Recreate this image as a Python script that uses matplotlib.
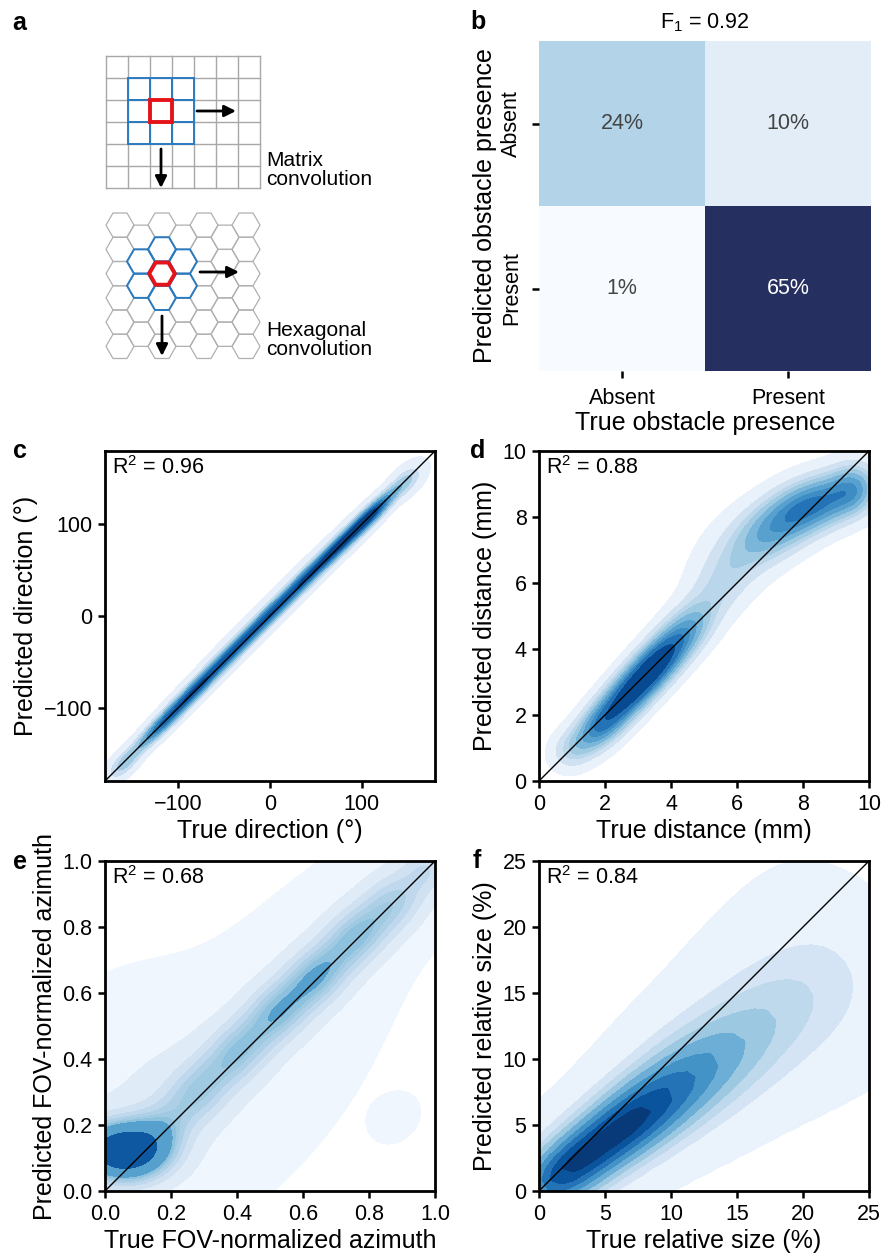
import numpy as np
import matplotlib
matplotlib.use("Agg")
import matplotlib.pyplot as plt
from matplotlib.patches import RegularPolygon, Rectangle
from matplotlib.colors import LinearSegmentedColormap
from matplotlib.ticker import FormatStrFormatter

plt.rcParams["font.family"] = ["Liberation Sans", "DejaVu Sans"]
plt.rcParams["mathtext.fontset"] = "custom"
plt.rcParams["mathtext.rm"] = "Liberation Sans"
plt.rcParams["mathtext.it"] = "Liberation Sans:italic"

# ---- data ----
cm_labels = ["Absent", "Present"]
cm_values = np.array([[0.24, 0.10],
                      [0.01, 0.65]])  # rows: predicted, cols: true
f1_score = 0.92

r2_direction = 0.96
r2_distance = 0.88
r2_azimuth = 0.68
r2_size = 0.84

# density blobs: (centre x, centre y, spread along, spread across, angle deg, weight)
direction_blobs = [
    (-160, -162, 15, 7, 45, 0.25),
    (-120, -120, 30, 6, 45, 0.9),
    (-80, -79, 30, 6, 45, 0.9),
    (-40, -38, 30, 6, 45, 0.85),
    (0, 2, 30, 6, 45, 0.85),
    (40, 42, 30, 6, 45, 0.85),
    (80, 81, 30, 6, 45, 1.0),
    (115, 115, 25, 6, 45, 0.8),
    (150, 148, 15, 8, 45, 0.25),
    (0, 6, 140, 18, 45, 0.9),
]
distance_blobs = [
    (0.9, 0.9, 0.5, 0.45, 40, 0.2),
    (1.8, 1.6, 0.7, 0.45, 45, 0.7),
    (2.7, 2.6, 0.8, 0.45, 45, 1.0),
    (3.6, 3.6, 0.8, 0.45, 45, 1.0),
    (4.5, 4.6, 0.8, 0.5, 45, 0.7),
    (5.8, 6.8, 1.2, 0.9, 50, 0.45),
    (5.5, 5.9, 0.8, 0.6, 45, 0.35),
    (7.2, 7.7, 1.2, 0.65, 35, 1.6),
    (8.7, 8.5, 1.0, 0.6, 20, 1.2),
    (9.6, 8.9, 0.5, 0.6, 0, 0.35),
]
azimuth_blobs = [
    (0.05, 0.12, 0.09, 0.06, 0, 1.3),
    (0.16, 0.17, 0.08, 0.06, 45, 0.3),
    (0.28, 0.30, 0.08, 0.06, 45, 0.35),
    (0.40, 0.42, 0.08, 0.06, 45, 0.4),
    (0.52, 0.54, 0.08, 0.06, 45, 0.45),
    (0.64, 0.65, 0.08, 0.06, 45, 0.48),
    (0.76, 0.77, 0.08, 0.06, 45, 0.45),
    (0.88, 0.88, 0.08, 0.06, 45, 0.38),
    (0.98, 0.98, 0.05, 0.05, 45, 0.12),
    (0.10, 0.30, 0.20, 0.18, 70, 0.6),
    (0.40, 0.28, 0.35, 0.18, 45, 0.5),
    (0.55, 0.62, 0.55, 0.15, 45, 0.6),
    (0.88, 0.22, 0.05, 0.04, 45, 0.02),
]
size_blobs = [
    (0.5, 0.4, 2.0, 1.5, 37, 0.45),
    (2, 1.5, 2.5, 1.7, 37, 1.7),
    (5, 3.8, 2.5, 1.8, 37, 1.85),
    (8, 6.0, 2.5, 2.0, 37, 2.0),
    (11, 8.3, 2.5, 2.3, 37, 1.7),
    (14, 10.5, 2.5, 2.6, 37, 1.35),
    (17, 12.8, 2.5, 3.0, 37, 1.05),
    (20, 15.0, 2.5, 3.4, 37, 0.85),
    (23, 17.3, 2.5, 3.8, 37, 0.57),
]


def blob_density(xx, yy, blobs):
    z = np.zeros_like(xx)
    for cx, cy, su, sv, ang, w in blobs:
        t = np.deg2rad(ang)
        dx, dy = xx - cx, yy - cy
        u = dx * np.cos(t) + dy * np.sin(t)
        v = -dx * np.sin(t) + dy * np.cos(t)
        z += w / (2 * np.pi * su * sv) * np.exp(-0.5 * (u**2 / su**2 + v**2 / sv**2))
    return z


def iso_levels(z, thresh, n):
    """Density values that enclose given proportions of the mass (like seaborn)."""
    flat = np.sort(z.ravel())[::-1]
    cum = np.cumsum(flat) / flat.sum()
    props = np.linspace(thresh, 1, n)
    idx = np.searchsorted(cum, 1 - props)
    return np.unique(np.take(flat, idx, mode="clip"))


W, H = 884, 1257
fig = plt.figure(figsize=(W / 100, H / 100), dpi=100)


def px_axes(left, top, right, bottom):
    return fig.add_axes([left / W, 1 - bottom / H, (right - left) / W, (bottom - top) / H])


def panel_label(x, y, s):
    fig.text(x / W, 1 - y / H, s, fontsize=18, fontweight="bold", ha="left", va="center")


# ---- panel a: schematic ----
ax_a = px_axes(0, 0, 420, 380)
ax_a.set_xlim(0, 420)
ax_a.set_ylim(380, 0)
ax_a.axis("off")

cell = 22
gx0, gy0, ncol, nrow = 106, 56, 7, 6
for i in range(ncol + 1):
    ax_a.plot([gx0 + i * cell] * 2, [gy0, gy0 + nrow * cell], color="#a8a8a8", lw=1, zorder=1)
for j in range(nrow + 1):
    ax_a.plot([gx0, gx0 + ncol * cell], [gy0 + j * cell] * 2, color="#a8a8a8", lw=1, zorder=1)
for i in range(1, 4):
    for j in range(1, 4):
        ax_a.add_patch(Rectangle((gx0 + i * cell, gy0 + j * cell), cell, cell,
                                 fill=False, ec="#2b7bc0", lw=1.4, zorder=2))
ax_a.add_patch(Rectangle((gx0 + 2 * cell, gy0 + 2 * cell), cell, cell,
                         fill=False, ec="#e5141b", lw=2.8, zorder=3))

hr = 14.0
hh = np.sqrt(3) * hr
hx0, hy0 = 120, 213 + hh / 2
centres = {}
for c in range(7):
    rows = 6 if c % 2 == 0 else 5
    for r in range(rows):
        cx = hx0 + c * 1.5 * hr
        cy = hy0 + r * hh + (hh / 2 if c % 2 else 0)
        centres[(c, r)] = (cx, cy)
        ax_a.add_patch(RegularPolygon((cx, cy), 6, radius=hr, orientation=np.pi / 6,
                                      fill=False, ec="#b0b0b0", lw=0.9, zorder=1))
for key in [(2, 1), (2, 3), (1, 1), (1, 2), (3, 1), (3, 2), (2, 2)]:
    ax_a.add_patch(RegularPolygon(centres[key], 6, radius=hr, orientation=np.pi / 6,
                                  fill=False, ec="#2b7bc0", lw=1.4, zorder=2))
ax_a.add_patch(RegularPolygon(centres[(2, 2)], 6, radius=hr - 1.2, orientation=np.pi / 6,
                              fill=False, ec="#e5141b", lw=2.8, zorder=3))

arrow_kw = dict(arrowstyle="-|>", color="k", lw=2, mutation_scale=17, shrinkA=0, shrinkB=0)
for start, end in [((197, 111), (236, 111)), ((161, 149), (161, 188)),
                   ((200, 272), (239, 272)), ((162, 316), (162, 356))]:
    ax_a.annotate("", xy=end, xytext=start, arrowprops=arrow_kw, zorder=4)

ax_a.text(266, 170, "Matrix\nconvolution", fontsize=15, va="center", ha="left", linespacing=1.05)
ax_a.text(266, 340, "Hexagonal\nconvolution", fontsize=15, va="center", ha="left", linespacing=1.05)
panel_label(12, 23, "a")

# ---- panel b: confusion matrix ----
ax_b = px_axes(539, 41, 871, 371)
cm_cmap = LinearSegmentedColormap.from_list(
    "cm", [(0, "#f7fbff"), (0.14, "#e3eef9"), (0.36, "#b3d3e8"), (1, "#253061")])
ax_b.imshow(cm_values, cmap=cm_cmap, vmin=cm_values.min(), vmax=cm_values.max(),
            aspect="auto", extent=(0, 2, 2, 0))
for r in range(2):
    for c in range(2):
        val = cm_values[r, c]
        col = "white" if val > 0.4 else "#444444"
        ax_b.text(c + 0.5, r + 0.5, f"{val:.0%}", ha="center", va="center", fontsize=15.5, color=col)
ax_b.set_xticks([0.5, 1.5])
ax_b.set_xticklabels(cm_labels)
ax_b.set_yticks([0.5, 1.5])
ax_b.set_yticklabels(cm_labels, rotation=90, va="center")
for s in ax_b.spines.values():
    s.set_visible(False)
ax_b.tick_params(labelsize=15.5, length=5, width=1.8, pad=7)
ax_b.set_xlabel("True obstacle presence", fontsize=18, labelpad=2)
ax_b.set_ylabel("Predicted obstacle presence", fontsize=18, labelpad=3)
ax_b.set_title(f"F$_1$ = {f1_score:.2f}", fontsize=15.5, pad=9)
panel_label(470, 22, "b")


# ---- panels c-f: density plots ----
def density_panel(ax, blobs, lim, ticks, xlabel, ylabel, r2, thresh, nlev, grid=200, fmt=None):
    g = np.linspace(lim[0], lim[1], grid)
    xx, yy = np.meshgrid(g, g)
    z = blob_density(xx, yy, blobs)
    ax.contourf(xx, yy, z, levels=iso_levels(z, thresh, nlev), cmap="Blues")
    ax.plot(lim, lim, color="k", lw=1)
    ax.set_xlim(lim)
    ax.set_ylim(lim)
    ax.set_xticks(ticks)
    ax.set_yticks(ticks)
    if fmt:
        ax.xaxis.set_major_formatter(fmt)
        ax.yaxis.set_major_formatter(fmt)
    ax.set_xlabel(xlabel, fontsize=18, labelpad=3)
    ax.set_ylabel(ylabel, fontsize=18, labelpad=4)
    ax.tick_params(labelsize=15.5, length=5, width=1.8, pad=4)
    for s in ax.spines.values():
        s.set_linewidth(2.0)
    ax.text(0.02, 0.985, f"R$^2$ = {r2:.2f}", transform=ax.transAxes, fontsize=15.5,
            ha="left", va="top")


ax_c = px_axes(105, 451, 435, 781)
density_panel(ax_c, direction_blobs, (-180, 180), [-100, 0, 100],
              "True direction (°)", "Predicted direction (°)", r2_direction, 0.05, 10)
panel_label(13, 451, "c")

ax_d = px_axes(539, 451, 869, 781)
density_panel(ax_d, distance_blobs, (0, 10), [0, 2, 4, 6, 8, 10],
              "True distance (mm)", "Predicted distance (mm)", r2_distance, 0.05, 10)
panel_label(470, 451, "d")

ax_e = px_axes(105, 861, 435, 1191)
density_panel(ax_e, azimuth_blobs, (0, 1), [0, 0.2, 0.4, 0.6, 0.8, 1.0],
              "True FOV-normalized azimuth", "Predicted FOV-normalized azimuth", r2_azimuth,
              0.01, 10, fmt=FormatStrFormatter("%.1f"))
panel_label(13, 862, "e")

ax_f = px_axes(539, 861, 869, 1191)
density_panel(ax_f, size_blobs, (0, 25), [0, 5, 10, 15, 20, 25],
              "True relative size (%)", "Predicted relative size (%)", r2_size, 0.003, 10, grid=30)
panel_label(473, 861, "f")

fig.savefig("out.png", dpi=100)
